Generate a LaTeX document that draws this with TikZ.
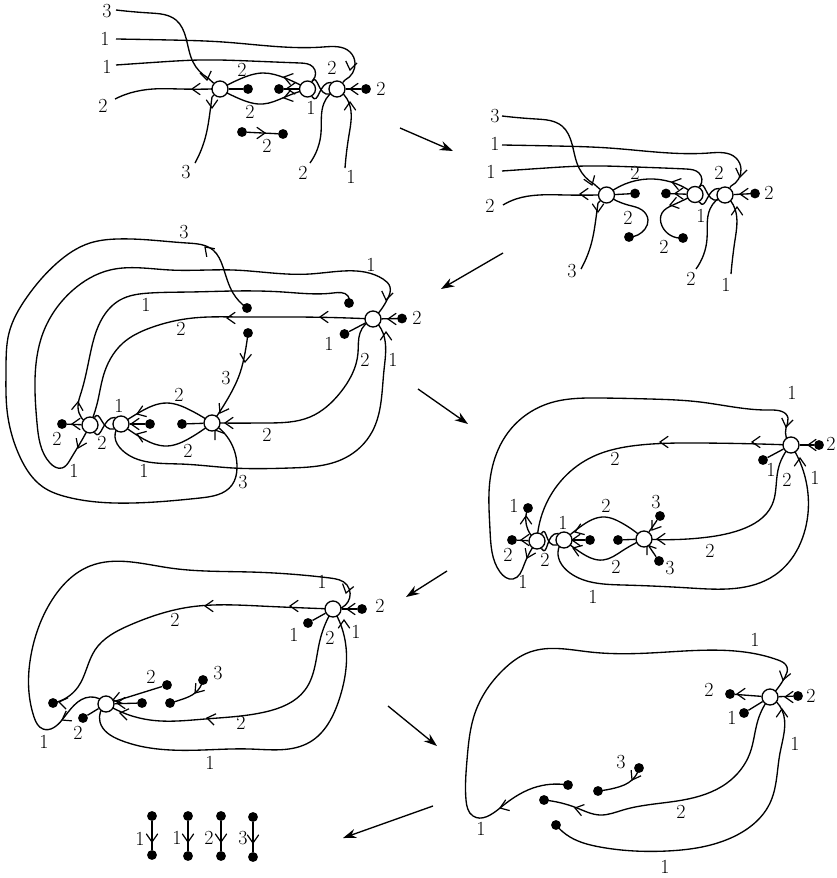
\documentclass[tikz,border=0pt]{standalone}
\usetikzlibrary{backgrounds,arrows.meta,hobby}
\tikzset{
  vert/.style={circle,draw,fill=white,line width=1pt,minimum size=12pt,inner sep=0pt},
  blob/.style={circle,fill=black,minimum size=7.4pt,inner sep=0pt},
  lab/.style={inner sep=0pt,font=\fontsize{15}{17}\selectfont},
  link/.style={line width=1pt,line join=round},
  barb/.style={line width=0.9pt,line join=miter},
  bigarrow/.style={line width=1pt,-{Stealth[length=10pt,width=7pt]}}
}
\newcommand\crv[1]{\draw[link,use Hobby shortcut] #1;}
\newcommand\chev[3]{\draw[barb] (#1,#2)++(#3+145:10) -- (#1,#2) -- ++(#3-145:10);}
\newcommand\twist[2]{%
  \draw[link] (#1.60) .. controls +(6,-9) and +(-12,3) .. (#2.215);
  \draw[link] (#1.-60) .. controls +(7,10) and +(-13,-1) .. (#2.130);}
\begin{document}
\begin{tikzpicture}[x=0.75pt,y=-0.75pt]
\useasboundingbox (0,0) rectangle (837,878);
% ---------- diagram 1
\node[vert] (a1) at (220,89) {};
\node[vert] (b1) at (307.5,89) {};
\node[vert] (c1) at (337,89) {};
\node[blob] (p1) at (248,89) {};
\node[blob] (q1) at (279,89) {};
\node[blob] (r1) at (366,89) {};
\node[blob] (s1) at (242,132) {};
\node[blob] (t1) at (283,134) {};
\node[lab] (l101) at (107,11) {3};
\node[lab] (l102) at (105,39) {1};
\node[lab] (l103) at (107,67) {1};
\node[lab] (l104) at (103,106) {2};
\node[lab] (l105) at (186,172) {3};
\node[lab] (l106) at (303,173) {2};
\node[lab] (l107) at (351,177) {1};
\node[lab] (l108) at (332,68) {2};
\node[lab] (l109) at (242,70) {2};
\node[lab] (l110) at (250,112) {2};
\node[lab] (l111) at (311,108) {1};
\node[lab] (l112) at (381,89) {2};
\node[lab] (l113) at (267,146) {2};
\coordinate (e11) at (116,10);
\coordinate (e12) at (116,39);
\coordinate (e13) at (116,65);
\coordinate (e14) at (115,99);
\coordinate (e15) at (195,163);
\coordinate (e16) at (310,163);
\coordinate (e17) at (345,168);
% ---------- diagram 2
\node[vert] (a2) at (606.5,195) {};
\node[vert] (b2) at (695,194.5) {};
\node[vert] (c2) at (725,195) {};
\node[blob] (p2) at (635,193.5) {};
\node[blob] (q2) at (666,193.5) {};
\node[blob] (r2) at (755,193.5) {};
\node[blob] (s2) at (629,237) {};
\node[blob] (t2) at (683,238) {};
\node[lab] (l201) at (495,116) {3};
\node[lab] (l202) at (495,144) {1};
\node[lab] (l203) at (491,172) {1};
\node[lab] (l204) at (490,206) {2};
\node[lab] (l205) at (572,271) {3};
\node[lab] (l206) at (691,279) {2};
\node[lab] (l207) at (726,285) {1};
\node[lab] (l208) at (719,173) {2};
\node[lab] (l209) at (635,173) {2};
\node[lab] (l210) at (628,218) {2};
\node[lab] (l211) at (701,216) {1};
\node[lab] (l212) at (769,193) {2};
\node[lab] (l213) at (664,247) {2};
\coordinate (e21) at (502,116);
\coordinate (e22) at (502,145);
\coordinate (e23) at (502,171);
\coordinate (e24) at (503,205);
\coordinate (e25) at (581,269);
\coordinate (e26) at (696,269);
\coordinate (e27) at (731,274);
% ---------- diagram 3
\node[vert] (c3) at (373,319) {};
\node[vert] (a3) at (90,425) {};
\node[vert] (b3) at (121,424) {};
\node[vert] (d3) at (212,423) {};
\node[blob] (u3) at (247,308) {};
\node[blob] (v3) at (349,303) {};
\node[blob] (w3) at (248,333) {};
\node[blob] (x3) at (344.5,334) {};
\node[blob] (y3) at (402,318.5) {};
\node[blob] (p3) at (62,424) {};
\node[blob] (q3) at (150,424) {};
\node[blob] (r3) at (182,424) {};
\node[lab] (l301) at (184,232) {3};
\node[lab] (l302) at (371,265) {1};
\node[lab] (l303) at (146,305) {1};
\node[lab] (l304) at (181,329) {2};
\node[lab] (l305) at (226,378) {3};
\node[lab] (l306) at (329,344) {1};
\node[lab] (l307) at (417,318) {2};
\node[lab] (l308) at (365,360) {2};
\node[lab] (l309) at (393,360) {1};
\node[lab] (l310) at (57,439) {2};
\node[lab] (l311) at (102,443) {2};
\node[lab] (l312) at (119,406) {1};
\node[lab] (l313) at (179,395) {2};
\node[lab] (l314) at (188,451) {2};
\node[lab] (l315) at (74,471) {1};
\node[lab] (l316) at (144,471) {1};
\node[lab] (l317) at (243,482) {3};
\node[lab] (l318) at (267,435) {2};
% ---------- diagram 4
\node[vert] (c4) at (791,445) {};
\node[vert] (a4) at (537,541) {};
\node[vert] (b4) at (564,540) {};
\node[vert] (d4) at (644,539) {};
\node[blob] (x4) at (763,460) {};
\node[blob] (y4) at (819,445) {};
\node[blob] (p4) at (512,540) {};
\node[blob] (o4) at (528,508) {};
\node[blob] (q4) at (590,540) {};
\node[blob] (r4) at (618,540) {};
\node[blob] (s4) at (660,516) {};
\node[blob] (t4) at (659,561) {};
\node[lab] (l401) at (792,393) {1};
\node[lab] (l402) at (615,459) {2};
\node[lab] (l403) at (787,480) {2};
\node[lab] (l404) at (815,478) {1};
\node[lab] (l405) at (771,470) {1};
\node[lab] (l406) at (831,444) {2};
\node[lab] (l407) at (710,551) {2};
\node[lab] (l408) at (514,506) {1};
\node[lab] (l409) at (508,555) {2};
\node[lab] (l410) at (545,560) {2};
\node[lab] (l411) at (563,523) {1};
\node[lab] (l412) at (606,506) {2};
\node[lab] (l413) at (616,567) {2};
\node[lab] (l414) at (656,502) {3};
\node[lab] (l415) at (670,568) {3};
\node[lab] (l416) at (523,582) {1};
\node[lab] (l417) at (593,597) {1};
% ---------- diagram 5
\node[vert] (c5) at (333,609) {};
\node[vert] (b5) at (106,704) {};
\node[blob] (x5) at (308,623) {};
\node[blob] (y5) at (362,609) {};
\node[blob] (p5) at (53,703) {};
\node[blob] (q5) at (167,685) {};
\node[blob] (r5) at (142,703) {};
\node[blob] (s5) at (170,703) {};
\node[blob] (t5) at (203,680) {};
\node[blob] (u5) at (83,718) {};
\node[lab] (l501) at (322,582) {1};
\node[lab] (l502) at (175,620) {2};
\node[lab] (l503) at (294,635) {1};
\node[lab] (l504) at (330,638) {2};
\node[lab] (l505) at (356,632) {1};
\node[lab] (l506) at (380,606) {2};
\node[lab] (l507) at (151,677) {2};
\node[lab] (l508) at (218,673) {3};
\node[lab] (l509) at (78,733) {2};
\node[lab] (l510) at (44,742) {1};
\node[lab] (l511) at (241,723) {2};
\node[lab] (l512) at (210,763) {1};
% ---------- diagram 6
\node[vert] (c6) at (770,697) {};
\node[blob] (x6) at (730,694) {};
\node[blob] (y6) at (744,713) {};
\node[blob] (z6) at (798,696) {};
\node[blob] (p6) at (639,768) {};
\node[blob] (q6) at (598,791) {};
\node[blob] (r6) at (568,785) {};
\node[blob] (s6) at (544,800) {};
\node[blob] (t6) at (556,825) {};
\node[lab] (l601) at (755,640) {1};
\node[lab] (l602) at (709,690) {2};
\node[lab] (l603) at (732,718) {1};
\node[lab] (l604) at (811,696) {2};
\node[lab] (l605) at (795,744) {1};
\node[lab] (l606) at (621,762) {3};
\node[lab] (l607) at (681,812) {2};
\node[lab] (l608) at (481,829) {1};
\node[lab] (l609) at (665,867) {1};
% ---------- diagram 7
\node[blob] (a7) at (152,816) {};
\node[blob] (b7) at (152,855) {};
\node[blob] (c7) at (188,816) {};
\node[blob] (d7) at (188,856) {};
\node[blob] (e7) at (221,816) {};
\node[blob] (f7) at (221,856) {};
\node[blob] (g7) at (253,817) {};
\node[blob] (h7) at (253,857) {};
\node[lab] (l701) at (140,839) {1};
\node[lab] (l702) at (177,838) {1};
\node[lab] (l703) at (209,838) {2};
\node[lab] (l704) at (243,838) {3};
% ---------- step arrows
\coordinate (f1) at (400,128); \coordinate (g1) at (453,151);
\coordinate (f2) at (503,253); \coordinate (g2) at (441,289);
\coordinate (f3) at (418,389); \coordinate (g3) at (468,424);
\coordinate (f4) at (447,571); \coordinate (g4) at (406,597);
\coordinate (f5) at (388,706); \coordinate (g5) at (437,746);
\coordinate (f6) at (433,806); \coordinate (g6) at (343,838);
\draw[bigarrow] (f1) -- (g1);
\draw[bigarrow] (f2) -- (g2);
\draw[bigarrow] (f3) -- (g3);
\draw[bigarrow] (f4) -- (g4);
\draw[bigarrow] (f5) -- (g5);
\draw[bigarrow] (f6) -- (g6);
\begin{scope}[on background layer]
% --- diagram 1 curves
\crv{(e11) .. (150,13) .. (176,20) .. (186,38) .. (193,62) .. (208,78)}
\draw[link] (208,78) -- (a1);
\crv{(e12) .. (170,40) .. (223,42) .. (323,47) .. (350,52) .. (355,63) .. (345,80)}
\draw[link] (345,80) -- (c1);
\crv{(e13) .. (160,62) .. (200,60) .. (250,61) .. (300,63) .. (313,67) .. (313,80)}
\draw[link] (313,80) -- (b1);
\crv{(e14) .. (130,93) .. (153,89) .. (180,89) .. (212,89)}
\draw[link] (212,89) -- (a1);
\crv{(212,97) .. (210,112) .. (206,135) .. (e15)}
\draw[link] (212,97) -- (a1);
\draw[link] (a1) -- (p1);
\crv{(a1.center) .. (240,79) .. (263,73) .. (285,78) .. (b1.center)}
\crv{(a1.center) .. (240,99) .. (263,104) .. (285,97) .. (b1.center)}
\draw[link] (b1) -- (q1);
\twist{b1}{c1}
\draw[link] (c1) -- (r1);
\crv{(c1.center) .. (324,103) .. (321,133) .. (e16)}
\crv{(c1.center) .. (349,103) .. (349,135) .. (e17)}
\draw[link] (s1) -- (t1);
\chev{207}{80}{80}\chev{192}{89}{180}\chev{212}{108}{90}
\chev{284}{77}{195}\chev{284}{98}{165}\chev{287}{88.5}{180}
\chev{350}{70}{100}\chev{350}{89}{180}\chev{350}{102}{-90}\chev{265}{133}{0}
% --- diagram 2 curves
\crv{(e21) .. (536,119) .. (562,126) .. (572,144) .. (579,168) .. (594,184)}
\draw[link] (594,184) -- (a2);
\crv{(e22) .. (556,146) .. (609,148) .. (709,153) .. (736,158) .. (741,169) .. (731,186)}
\draw[link] (731,186) -- (c2);
\crv{(e23) .. (546,168) .. (586,166) .. (636,167) .. (686,169) .. (699,173) .. (700,186)}
\draw[link] (700,186) -- (b2);
\crv{(e24) .. (516,199) .. (539,195) .. (566,195) .. (598,195)}
\draw[link] (598,195) -- (a2);
\crv{(598,203) .. (596,218) .. (592,241) .. (e25)}
\draw[link] (598,203) -- (a2);
\draw[link] (a2) -- (p2);
\crv{(a2.center) .. (625,184) .. (648,179) .. (671,182) .. (b2.center)}
\crv{(a2.center) .. (628,205) .. (642,210) .. (648,220) .. (645,229) .. (s2.center)}
\crv{(b2.center) .. (673,205) .. (662,213) .. (662,226) .. (t2.center)}
\draw[link] (b2) -- (q2);
\twist{b2}{c2}
\draw[link] (c2) -- (r2);
\crv{(c2.center) .. (710,209) .. (707,239) .. (e26)}
\crv{(c2.center) .. (735,209) .. (735,240) .. (e27)}
\chev{592}{185}{70}\chev{580}{194}{180}\chev{598}{212}{90}
\chev{672}{182}{195}\chev{675}{193.5}{180}\chev{670}{205}{165}
\chev{740}{177}{100}\chev{740}{194}{180}\chev{737}{207}{-90}
% --- diagram 3 curves
\crv{(u3.center) .. (233,293) .. (223,267) .. (213,250) .. (187,243) .. (150,240) .. (117,239) .. (90,243) .. (57,263) .. (27,297) .. (9,333) .. (6,370) .. (7,410) .. (20,457) .. (43,487) .. (67,497) .. (133,503) .. (200,498) .. (232,485) .. (237,468) .. (d3.center)}
\crv{(c3.center) .. (388,298) .. (390,287) .. (383,279) .. (310,274) .. (233,270) .. (170,270) .. (110,270) .. (73,290) .. (43,333) .. (35,380) .. (37,423) .. (50,463) .. (62,468) .. (70,460) .. (82,440) .. (a3.center)}
\crv{(v3.center) .. (348,296) .. (333,293) .. (283,292) .. (233,291) .. (190,292) .. (150,293) .. (120,300) .. (103,317) .. (90,355) .. (81,393) .. (78,407) .. (a3.center)}
\crv{(c3.center) .. (293,317) .. (240,317) .. (193,318) .. (150,328) .. (123,343) .. (103,377) .. (98,400) .. (a3.center)}
\crv{(w3.center) .. (245,353) .. (240,373) .. (227,400) .. (d3.center)}
\crv{(c3.center) .. (360,333) .. (358,353) .. (340,393) .. (310,417) .. (267,423) .. (d3.center)}
\crv{(c3.center) .. (383,333) .. (384,370) .. (372,432) .. (345,458) .. (290,468) .. (233,468) .. (180,464) .. (122,450) .. (115,437) .. (b3.center)}
\draw[link] (x3) -- (c3);
\draw[link] (c3) -- (y3);
\draw[link] (a3) -- (p3);
\twist{a3}{b3}
\draw[link] (b3) -- (q3);
\draw[link] (d3) -- (r3);
\crv{(b3.center) .. (140,412) .. (167,403) .. (190,410) .. (d3.center)}
\crv{(b3.center) .. (140,437) .. (167,446) .. (190,438) .. (d3.center)}
\chev{205}{247}{225}\chev{386}{300}{100}\chev{78}{448}{115}\chev{78}{402}{-85}
\chev{227}{318}{180}\chev{320}{317}{180}\chev{245}{362}{95}\chev{220}{413}{120}
\chev{225}{423}{180}\chev{386}{332}{-90}\chev{215}{430}{235}\chev{388}{319}{180}
\chev{137}{414}{160}\chev{131}{424}{180}\chev{137}{434}{200}\chev{72}{424}{180}
% --- diagram 4 curves
\crv{(c4.center) .. (786,428) .. (788,418) .. (770,410) .. (700,402) .. (650,399) .. (600,398) .. (550,403) .. (510,430) .. (490,480) .. (490,530) .. (500,572) .. (513,579) .. (524,565) .. (a4.center)}
\crv{(c4.center) .. (700,443) .. (640,445) .. (590,458) .. (560,482) .. (a4.center)}
\crv{(c4.center) .. (778,470) .. (772,505) .. (740,530) .. (700,538) .. (d4.center)}
\crv{(c4.center) .. (803,470) .. (805,530) .. (775,575) .. (690,588) .. (623,585) .. (570,573) .. (558,552) .. (b4.center)}
\draw[link] (c4) -- (x4);
\draw[link] (c4) -- (y4);
\crv{(a4.center) .. (528,530) .. (o4.center)}
\draw[link] (a4) -- (p4);
\twist{a4}{b4}
\draw[link] (b4) -- (q4);
\draw[link] (d4) -- (r4);
\draw[link] (d4) -- (s4);
\draw[link] (d4) -- (t4);
\crv{(b4.center) .. (580,527) .. (605,517) .. (620,522) .. (d4.center)}
\crv{(b4.center) .. (580,552) .. (603,560) .. (622,551) .. (d4.center)}
\chev{660}{442}{180}\chev{752}{442}{180}\chev{786}{427}{100}\chev{808}{445}{180}
\chev{800}{458}{-90}\chev{657}{539}{180}\chev{652}{530}{125}\chev{647}{545}{235}
\chev{521}{540}{180}\chev{526}{516}{-90}\chev{527}{558}{115}
\chev{575}{532}{160}\chev{572}{540}{180}\chev{573}{548}{200}
% --- diagram 5 curves
\crv{(b5.center) .. (90,697) .. (62,720) .. (43,729) .. (34,717) .. (32,650) .. (52,600) .. (90,566) .. (170,568) .. (250,572) .. (330,578) .. (347,585) .. (c5.center)}
\crv{(p5.center) .. (78,687) .. (95,650) .. (130,625) .. (190,607) .. (260,606) .. (c5.center)}
\crv{(c5.center) .. (320,640) .. (305,690) .. (265,712) .. (205,719) .. (150,720) .. (b5.center)}
\crv{(c5.center) .. (345,640) .. (339,700) .. (310,742) .. (250,749) .. (203,750) .. (120,740) .. (100,722) .. (b5.center)}
\draw[link] (c5) -- (x5);
\draw[link] (c5) -- (y5);
\draw[link] (q5) -- (b5);
\draw[link] (r5) -- (b5);
\draw[link] (b5) -- (u5);
\crv{(s5.center) .. (183,699) .. (195,693) .. (t5.center)}
\chev{346}{593}{105}\chev{347}{609}{180}\chev{344}{620}{-90}\chev{205}{606}{180}\chev{290}{606}{180}
\chev{59}{702}{190}\chev{62}{720}{150}\chev{113}{700}{165}\chev{117}{703}{180}\chev{120}{713}{190}
\chev{207}{718}{190}\chev{195}{693}{130}
% --- diagram 6 curves
\crv{(c6.center) .. (785,677) .. (787,667) .. (778,660) .. (650,653) .. (590,652) .. (530,652) .. (503,670) .. (475,713) .. (467,760) .. (466,800) .. (473,816) .. (500,808) .. (533,788) .. (r6.center)}
\crv{(c6.center) .. (758,720) .. (750,753) .. (727,783) .. (683,800) .. (623,810) .. (600,815) .. (577,808) .. (s6.center)}
\crv{(c6.center) .. (782,710) .. (780,753) .. (770,803) .. (733,837) .. (667,851) .. (600,847) .. (570,837) .. (t6.center)}
\draw[link] (c6) -- (x6);
\draw[link] (c6) -- (y6);
\draw[link] (c6) -- (z6);
\crv{(p6.center) .. (632,780) .. (615,788) .. (q6.center)}
\chev{783}{680}{105}\chev{737}{694}{180}\chev{785}{697}{180}\chev{782}{709}{-90}
\chev{500}{808}{160}\chev{575}{808}{195}\chev{632}{780}{120}
% --- diagram 7 curves
\draw[link] (a7) -- (b7);
\draw[link] (c7) -- (d7);
\draw[link] (e7) -- (f7);
\draw[link] (g7) -- (h7);
\chev{152}{842}{90}\chev{188}{842}{90}\chev{221}{842}{90}\chev{253}{843}{90}
\end{scope}
\end{tikzpicture}
\end{document}
